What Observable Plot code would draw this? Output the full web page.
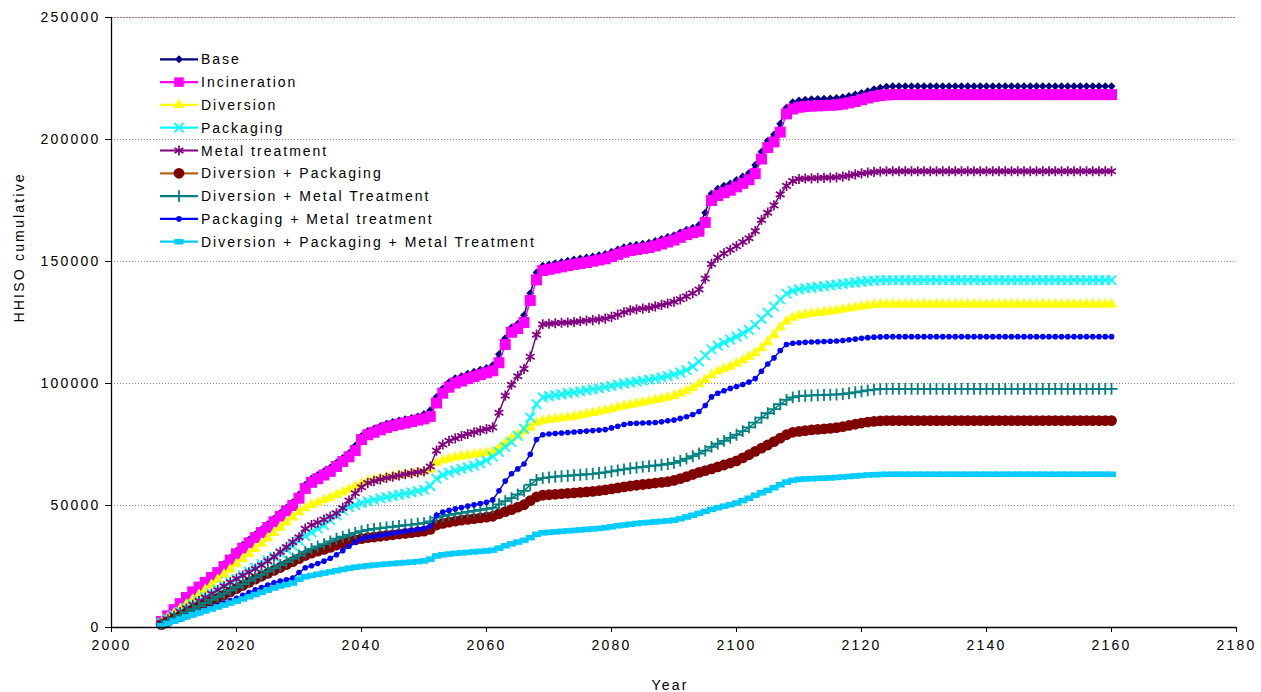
<!DOCTYPE html>
<html>
<head>
<meta charset="utf-8">
<script src="https://cdn.jsdelivr.net/npm/d3@7"></script>
<script src="https://cdn.jsdelivr.net/npm/@observablehq/plot@0.6"></script>
<style>
  html, body { margin: 0; padding: 0; background: #fff; }
  #chart svg { display: block; }
</style>
</head>
<body>
<div id="chart"></div>
<script>
// ---------------- DATA (values in thousands, one value per year 2008..2160) ----------------
const years = d3.range(2008, 2161);
const xTickLabels = [2000, 2020, 2040, 2060, 2080, 2100, 2120, 2140, 2160, 2180];
const yTickLabels = [0, 50000, 100000, 150000, 200000, 250000];
const seriesNames = [
  "Base", "Incineration", "Diversion", "Packaging", "Metal treatment",
  "Diversion + Packaging", "Diversion + Metal Treatment",
  "Packaging + Metal treatment", "Diversion + Packaging + Metal Treatment"
];

const baseK = [
  3.0, 5.3, 7.8, 10.3, 12.8, 15.1, 17.1, 19.0, 21.0, 23.0,
  26.0, 28.6, 31.4, 33.8, 36.0, 38.1, 40.2, 42.3, 44.6, 46.9,
  49.1, 51.3, 54.5, 58.5, 61.0, 62.5, 64.0, 65.5, 67.5, 69.5,
  71.5, 74.5, 78.5, 80.5, 81.5, 82.5, 83.5, 84.2, 84.8, 85.3,
  85.9, 86.5, 87.5, 89.0, 94.5, 98.0, 100.5, 102.2, 103.0, 104.0,
  104.8, 105.6, 106.4, 107.5, 112.0, 118.5, 123.0, 124.5, 128.0, 137.0,
  145.5, 148.3, 148.8, 149.3, 149.8, 150.3, 150.8, 151.2, 151.6, 152.1,
  152.6, 153.1, 154.0, 154.9, 155.8, 156.5, 156.9, 157.3, 157.7, 158.4,
  159.2, 160.0, 160.8, 161.9, 163.0, 163.8, 165.0, 170.0, 177.8, 179.8,
  181.0, 182.0, 183.4, 184.8, 186.3, 189.5, 195.0, 199.5, 202.0, 206.5,
  213.0, 215.3, 216.0, 216.3, 216.5, 216.6, 216.7, 216.8, 217.0, 217.3,
  217.8, 218.4, 219.1, 219.8, 220.6, 221.2, 221.6, 221.8, 221.8, 221.8,
  221.8, 221.8, 221.8, 221.8, 221.8, 221.8, 221.8, 221.8, 221.8, 221.8,
  221.8, 221.8, 221.8, 221.8, 221.8, 221.8, 221.8, 221.8, 221.8, 221.8,
  221.8, 221.8, 221.8, 221.8, 221.8, 221.8, 221.8, 221.8, 221.8, 221.8,
  221.8, 221.8, 221.8
];
const incinerationK = [
  2.5, 4.8, 7.3, 9.8, 12.3, 14.6, 16.6, 18.5, 20.5, 22.5,
  25.0, 27.6, 30.2, 32.5, 34.7, 36.8, 38.9, 41.0, 43.3, 45.6,
  47.8, 50.0, 53.0, 57.0, 59.5, 61.0, 62.5, 64.0, 66.0, 68.0,
  70.0, 72.5, 77.0, 79.0, 80.0, 81.0, 82.0, 82.7, 83.3, 83.8,
  84.4, 85.0, 85.5, 86.5, 92.0, 96.0, 98.5, 100.2, 101.0, 102.0,
  102.8, 103.6, 104.4, 105.2, 108.5, 116.0, 121.0, 122.5, 125.0, 134.0,
  142.5, 146.3, 146.8, 147.3, 147.8, 148.3, 148.8, 149.2, 149.6, 150.1,
  150.6, 151.1, 152.0, 152.9, 153.8, 154.5, 154.9, 155.3, 155.7, 156.4,
  157.2, 158.0, 158.8, 159.9, 161.0, 161.8, 162.4, 166.0, 175.0, 177.0,
  178.2, 179.2, 180.6, 182.0, 183.5, 186.0, 192.0, 196.7, 199.0, 203.0,
  210.5, 212.5, 213.2, 213.5, 213.7, 213.8, 213.9, 214.0, 214.2, 214.5,
  215.0, 215.6, 216.3, 217.0, 217.6, 218.0, 218.3, 218.4, 218.4, 218.4,
  218.4, 218.4, 218.4, 218.4, 218.4, 218.4, 218.4, 218.4, 218.4, 218.4,
  218.4, 218.4, 218.4, 218.4, 218.4, 218.4, 218.4, 218.4, 218.4, 218.4,
  218.4, 218.4, 218.4, 218.4, 218.4, 218.4, 218.4, 218.4, 218.4, 218.4,
  218.4, 218.4, 218.4
];
const diversionK = [
  2.2, 4.0, 5.8, 7.6, 9.5, 11.5, 13.5, 15.5, 17.6, 19.7,
  21.8, 23.9, 26.0, 28.1, 30.2, 32.3, 34.4, 36.6, 38.8, 41.0,
  43.1, 45.2, 47.3, 49.0, 50.3, 51.3, 52.3, 53.3, 54.4, 55.5,
  56.6, 57.8, 59.0, 60.0, 60.6, 61.1, 61.6, 62.0, 62.4, 62.8,
  63.2, 63.6, 64.0, 64.8, 67.5, 68.5, 69.2, 69.8, 70.2, 70.6,
  71.0, 71.3, 71.6, 72.0, 73.5, 75.5, 77.5, 79.0, 80.5, 82.0,
  84.0, 84.8, 85.2, 85.5, 85.8, 86.1, 86.5, 87.0, 87.5, 88.0,
  88.5, 89.0, 89.6, 90.2, 90.8, 91.3, 91.8, 92.3, 92.8, 93.3,
  93.8, 94.3, 95.0, 96.0, 97.0, 98.2, 99.8, 101.5, 103.5, 105.0,
  106.0, 107.0, 108.2, 109.6, 111.0, 112.5, 114.5, 117.0, 120.0, 123.0,
  125.5, 127.0, 127.8, 128.3, 128.7, 129.0, 129.3, 129.6, 130.0, 130.4,
  130.8, 131.2, 131.6, 132.0, 132.3, 132.5, 132.5, 132.5, 132.5, 132.5,
  132.5, 132.5, 132.5, 132.5, 132.5, 132.5, 132.5, 132.5, 132.5, 132.5,
  132.5, 132.5, 132.5, 132.5, 132.5, 132.5, 132.5, 132.5, 132.5, 132.5,
  132.5, 132.5, 132.5, 132.5, 132.5, 132.5, 132.5, 132.5, 132.5, 132.5,
  132.5, 132.5, 132.5
];
const packagingK = [
  1.8, 3.4, 5.0, 6.5, 8.0, 9.5, 11.0, 12.5, 14.0, 15.5,
  17.0, 18.5, 20.0, 21.5, 23.0, 24.5, 26.0, 27.5, 29.0, 30.5,
  32.0, 33.5, 35.5, 37.5, 39.0, 40.5, 42.0, 44.0, 46.0, 48.0,
  49.3, 50.2, 51.0, 51.7, 52.3, 52.9, 53.4, 53.9, 54.4, 54.9,
  55.4, 55.9, 56.5, 58.0, 61.0, 62.5, 63.5, 64.3, 65.0, 65.6,
  66.3, 67.3, 68.5, 70.0, 72.0, 74.0, 76.0, 78.5, 81.5, 86.0,
  91.5, 94.3, 94.8, 95.2, 95.6, 96.0, 96.4, 96.8, 97.2, 97.6,
  98.0, 98.5, 99.0, 99.5, 100.0, 100.4, 100.8, 101.2, 101.6, 102.0,
  102.5, 103.0, 103.6, 104.5, 105.5, 107.0, 109.0, 111.5, 114.0, 115.5,
  116.8, 118.0, 119.2, 120.5, 122.0, 124.0, 126.5, 129.0, 131.5, 134.5,
  136.8, 138.0, 138.6, 139.0, 139.3, 139.6, 139.9, 140.2, 140.5, 140.8,
  141.1, 141.4, 141.7, 142.0, 142.2, 142.3, 142.4, 142.4, 142.4, 142.4,
  142.4, 142.4, 142.4, 142.4, 142.4, 142.4, 142.4, 142.4, 142.4, 142.4,
  142.4, 142.4, 142.4, 142.4, 142.4, 142.4, 142.4, 142.4, 142.4, 142.4,
  142.4, 142.4, 142.4, 142.4, 142.4, 142.4, 142.4, 142.4, 142.4, 142.4,
  142.4, 142.4, 142.4
];
const metalK = [
  1.8, 3.3, 4.8, 6.3, 7.8, 9.3, 10.8, 12.3, 13.8, 15.3,
  16.9, 18.5, 20.0, 21.3, 22.6, 24.0, 25.5, 27.2, 29.0, 31.0,
  33.0, 35.0, 37.0, 40.5, 42.0, 43.0, 44.2, 45.5, 46.8, 49.0,
  52.0, 55.0, 57.5, 59.2, 60.0, 60.7, 61.3, 61.8, 62.3, 62.8,
  63.2, 63.6, 64.0, 66.0, 72.5, 75.0, 76.5, 77.5, 78.5, 79.3,
  80.0, 80.7, 81.3, 82.0, 88.0, 95.0, 99.5, 103.0, 106.0, 111.0,
  120.0, 124.3, 124.5, 124.7, 124.9, 125.0, 125.2, 125.5, 125.8, 126.0,
  126.3, 126.6, 127.3, 128.2, 129.2, 130.0, 130.4, 130.7, 131.0, 131.6,
  132.2, 132.8, 133.5, 134.5, 135.7, 137.0, 138.5, 143.0, 149.0, 151.6,
  153.3, 154.8, 156.3, 158.0, 159.5, 162.5, 167.0, 170.0, 173.0, 177.5,
  181.0, 183.0, 183.8, 184.0, 184.1, 184.2, 184.3, 184.4, 184.5, 184.8,
  185.2, 185.7, 186.1, 186.4, 186.7, 186.9, 187.0, 187.0, 187.0, 187.0,
  187.0, 187.0, 187.0, 187.0, 187.0, 187.0, 187.0, 187.0, 187.0, 187.0,
  187.0, 187.0, 187.0, 187.0, 187.0, 187.0, 187.0, 187.0, 187.0, 187.0,
  187.0, 187.0, 187.0, 187.0, 187.0, 187.0, 187.0, 187.0, 187.0, 187.0,
  187.0, 187.0, 187.0
];
const divPackK = [
  1.2, 2.4, 3.6, 4.8, 6.0, 7.2, 8.4, 9.6, 10.8, 12.0,
  13.3, 14.6, 15.9, 17.2, 18.5, 19.8, 21.0, 22.2, 23.4, 24.6,
  25.8, 27.0, 28.2, 29.5, 30.5, 31.3, 32.0, 32.8, 33.8, 34.6,
  35.3, 35.9, 36.4, 36.8, 37.1, 37.4, 37.7, 38.0, 38.3, 38.6,
  38.9, 39.2, 39.5, 40.2, 42.0, 42.7, 43.2, 43.6, 44.0, 44.3,
  44.6, 44.9, 45.2, 45.6, 46.6, 47.5, 48.3, 49.3, 50.3, 52.0,
  53.5, 54.2, 54.4, 54.6, 54.8, 55.0, 55.2, 55.4, 55.6, 55.8,
  56.1, 56.4, 56.8, 57.2, 57.6, 58.0, 58.3, 58.6, 58.9, 59.2,
  59.5, 59.8, 60.3, 61.0, 61.8, 62.7, 63.6, 64.3, 65.0, 65.8,
  66.6, 67.4, 68.3, 69.5, 70.8, 72.2, 73.5, 74.8, 76.2, 77.6,
  79.0, 80.0, 80.4, 80.7, 81.0, 81.2, 81.4, 81.6, 81.9, 82.3,
  82.8, 83.3, 83.8, 84.2, 84.5, 84.7, 84.8, 84.8, 84.8, 84.8,
  84.8, 84.8, 84.8, 84.8, 84.8, 84.8, 84.8, 84.8, 84.8, 84.8,
  84.8, 84.8, 84.8, 84.8, 84.8, 84.8, 84.8, 84.8, 84.8, 84.8,
  84.8, 84.8, 84.8, 84.8, 84.8, 84.8, 84.8, 84.8, 84.8, 84.8,
  84.8, 84.8, 84.8
];
const divMetalK = [
  1.5, 2.7, 3.9, 5.1, 6.3, 7.5, 8.8, 10.0, 11.3, 12.6,
  13.9, 15.2, 16.5, 17.8, 19.1, 20.4, 21.7, 23.0, 24.3, 25.6,
  26.9, 28.2, 29.5, 31.0, 32.2, 33.2, 34.2, 35.3, 36.4, 37.2,
  38.0, 38.8, 39.5, 40.0, 40.4, 40.7, 41.0, 41.3, 41.6, 41.9,
  42.2, 42.5, 42.8, 43.5, 45.0, 45.7, 46.2, 46.6, 47.0, 47.4,
  47.8, 48.2, 48.6, 49.0, 50.5, 51.8, 53.0, 54.5, 56.0, 58.5,
  60.5, 61.2, 61.5, 61.8, 62.0, 62.2, 62.4, 62.6, 62.8, 63.0,
  63.3, 63.6, 64.0, 64.4, 64.8, 65.2, 65.5, 65.8, 66.1, 66.4,
  66.7, 67.0, 67.5, 68.3, 69.2, 70.2, 71.3, 72.5, 74.0, 75.3,
  76.5, 77.7, 79.0, 80.5, 82.0, 84.0, 86.0, 87.8, 89.5, 91.5,
  93.3, 94.3, 94.8, 95.0, 95.1, 95.2, 95.3, 95.4, 95.5, 95.7,
  96.0, 96.4, 96.8, 97.2, 97.5, 97.7, 97.8, 97.8, 97.8, 97.8,
  97.8, 97.8, 97.8, 97.8, 97.8, 97.8, 97.8, 97.8, 97.8, 97.8,
  97.8, 97.8, 97.8, 97.8, 97.8, 97.8, 97.8, 97.8, 97.8, 97.8,
  97.8, 97.8, 97.8, 97.8, 97.8, 97.8, 97.8, 97.8, 97.8, 97.8,
  97.8, 97.8, 97.8
];
const packMetalK = [
  1.0, 1.8, 2.6, 3.4, 4.3, 5.2, 6.1, 7.0, 8.0, 9.0,
  10.0, 11.0, 12.0, 13.2, 14.3, 15.4, 16.4, 17.4, 18.3, 19.0,
  19.6, 20.3, 22.5, 24.5, 25.3, 26.2, 27.2, 28.4, 29.8, 31.5,
  33.3, 35.0, 36.2, 37.0, 37.4, 37.8, 38.2, 38.6, 39.0, 39.4,
  39.8, 40.2, 40.6, 41.5, 46.0, 47.3, 48.0, 48.6, 49.2, 49.8,
  50.3, 50.8, 51.3, 52.3, 56.0, 60.0, 63.0, 65.0, 67.0, 71.0,
  77.0, 79.0, 79.3, 79.5, 79.7, 79.9, 80.1, 80.3, 80.5, 80.7,
  80.9, 81.1, 81.8, 82.5, 83.2, 83.6, 83.7, 83.8, 83.9, 84.0,
  84.3, 84.7, 85.0, 85.7, 86.4, 87.3, 88.5, 91.0, 94.5, 96.0,
  97.0, 98.0, 98.8, 99.6, 100.6, 102.0, 105.0, 108.0, 110.5, 113.5,
  116.0, 116.5, 116.7, 116.9, 117.0, 117.1, 117.2, 117.3, 117.4, 117.6,
  117.9, 118.2, 118.5, 118.8, 119.0, 119.1, 119.2, 119.2, 119.2, 119.2,
  119.2, 119.2, 119.2, 119.2, 119.2, 119.2, 119.2, 119.2, 119.2, 119.2,
  119.2, 119.2, 119.2, 119.2, 119.2, 119.2, 119.2, 119.2, 119.2, 119.2,
  119.2, 119.2, 119.2, 119.2, 119.2, 119.2, 119.2, 119.2, 119.2, 119.2,
  119.2, 119.2, 119.2
];
const divPackMetalK = [
  0.8, 1.7, 2.6, 3.5, 4.4, 5.2, 6.0, 6.8, 7.6, 8.4,
  9.2, 10.0, 10.8, 11.7, 12.6, 13.5, 14.4, 15.3, 16.2, 17.0,
  17.6, 18.2, 19.8, 20.8, 21.3, 21.8, 22.3, 22.8, 23.3, 23.8,
  24.3, 24.7, 25.0, 25.3, 25.6, 25.8, 26.0, 26.2, 26.4, 26.6,
  26.8, 27.0, 27.3, 28.0, 29.3, 29.8, 30.1, 30.4, 30.6, 30.8,
  31.0, 31.2, 31.4, 31.7, 32.5, 33.5, 34.3, 35.0, 35.7, 36.8,
  38.2, 38.8, 39.0, 39.2, 39.4, 39.6, 39.8, 40.0, 40.2, 40.4,
  40.6, 40.9, 41.3, 41.7, 42.0, 42.3, 42.6, 42.9, 43.1, 43.3,
  43.5, 43.7, 44.0, 44.6, 45.3, 46.0, 46.8, 47.6, 48.4, 49.1,
  49.7, 50.3, 51.0, 52.0, 53.0, 54.2, 55.2, 56.2, 57.3, 58.5,
  59.6, 60.3, 60.7, 60.9, 61.0, 61.1, 61.2, 61.3, 61.5, 61.7,
  61.9, 62.1, 62.3, 62.5, 62.6, 62.7, 62.8, 62.8, 62.8, 62.8,
  62.8, 62.8, 62.8, 62.8, 62.8, 62.8, 62.8, 62.8, 62.8, 62.8,
  62.8, 62.8, 62.8, 62.8, 62.8, 62.8, 62.8, 62.8, 62.8, 62.8,
  62.8, 62.8, 62.8, 62.8, 62.8, 62.8, 62.8, 62.8, 62.8, 62.8,
  62.8, 62.8, 62.8
];
const seriesValues = [baseK, incinerationK, diversionK, packagingK, metalK,
                      divPackK, divMetalK, packMetalK, divPackMetalK];

// ---------------- STYLES ----------------
const dashSymbol = {
  draw(context, size) {
    const r = Math.sqrt(size / Math.PI);
    const h = r * 0.62;
    context.moveTo(-r, -h);
    context.lineTo(r, -h);
    context.lineTo(r, h);
    context.lineTo(-r, h);
    context.closePath();
  }
};
const styles = [
  {color: "#000080", line: "#000080", symbol: d3.symbolDiamond2, r: 3.6, filled: true},
  {color: "#FF00FF", line: "#FF00FF", symbol: d3.symbolSquare2, r: 7.0, filled: true},
  {color: "#FFFF00", line: "#FFFF00", symbol: d3.symbolTriangle2, r: 5.3, filled: true},
  {color: "#00FFFF", line: "#00FFFF", symbol: d3.symbolTimes, r: 4.4, filled: false, sw: 1.8},
  {color: "#800080", line: "#800080", symbol: d3.symbolAsterisk, r: 4.8, filled: false, sw: 1.7},
  {color: "#800000", line: "#B5651D", symbol: d3.symbolCircle, r: 5.4, filled: true},
  {color: "#008080", line: "#008080", symbol: d3.symbolPlus, r: 3.9, filled: false, sw: 1.8},
  {color: "#0000FF", line: "#0000FF", symbol: d3.symbolCircle, r: 2.8, filled: true},
  {color: "#00CCFF", line: "#00CCFF", symbol: dashSymbol, r: 4.5, filled: true}
];

// ---------------- BUILD ----------------
const marks = [
  Plot.ruleY(yTickLabels.slice(1, -1), {stroke: "#8a8a8a", strokeDasharray: "1,2", strokeWidth: 1}),
  Plot.ruleY([yTickLabels[yTickLabels.length - 1]], {stroke: "#a86a6a", strokeDasharray: "2,1", strokeWidth: 1})
];
seriesValues.forEach((vals, i) => {
  const rows = years.map((yr, j) => ({year: yr, v: vals[j] * 1000})).filter(d => Number.isFinite(d.v));
  const s = styles[i];
  marks.push(Plot.line(rows, {x: "year", y: "v", stroke: s.line, strokeWidth: 1.5}));
  marks.push(Plot.dot(rows, s.filled
    ? {x: "year", y: "v", symbol: s.symbol, r: s.r, fill: s.color, stroke: "none"}
    : {x: "year", y: "v", symbol: s.symbol, r: s.r, fill: "none", stroke: s.color, strokeWidth: s.sw}));
});
marks.push(
  Plot.ruleX([xTickLabels[0]], {stroke: "#000", strokeWidth: 1.3}),
  Plot.ruleY([0], {stroke: "#000", strokeWidth: 1.3}),
  Plot.text(["HHISO cumulative"], {frameAnchor: "left", dx: -92, rotate: -90, fontSize: 14}),
  Plot.text(["Year"], {frameAnchor: "bottom", dx: -4, dy: 62, fontSize: 14})
);

const chart = Plot.plot({
  width: 1261,
  height: 692,
  marginLeft: 111,
  marginRight: 25,
  marginTop: 17,
  marginBottom: 65,
  style: {fontFamily: "'Liberation Sans', Arial, sans-serif", fontSize: "14px", letterSpacing: "2.2px", color: "#000", background: "#fff", overflow: "visible"},
  x: {domain: [2000, 2180], ticks: xTickLabels, tickFormat: "d", tickSize: 5, tickPadding: 8, label: null},
  y: {domain: [0, 250000], ticks: yTickLabels, tickFormat: "d", tickSize: 6, tickPadding: 5, label: null},
  marks
});
document.getElementById("chart").appendChild(chart);

// ---------------- LEGEND ----------------
const svg = d3.select(chart);
const lg = svg.append("g").attr("class", "legend")
  .attr("text-anchor", "start")
  .style("font-family", "'Liberation Sans', Arial, sans-serif")
  .style("font-size", "14px").style("letter-spacing", "2px");
seriesNames.forEach((name, i) => {
  const s = styles[i];
  const y = 59.3 + 22.8 * i;
  const g = lg.append("g").attr("transform", `translate(0,${y})`);
  g.append("line").attr("x1", 160).attr("x2", 198).attr("y1", 0).attr("y2", 0)
    .attr("stroke", s.line).attr("stroke-width", 2.2);
  g.append("path")
    .attr("transform", "translate(179,0)")
    .attr("d", d3.symbol(s.symbol, s.r * s.r * Math.PI * (i === 1 ? 0.75 : 1))())
    .attr("fill", s.filled ? s.color : "none")
    .attr("stroke", s.filled ? "none" : s.color)
    .attr("stroke-width", s.sw || 0);
  g.append("text").attr("x", 201).attr("y", 5).attr("fill", "#000")
    .attr("text-anchor", "start").text(name);
});
</script>
</body>
</html>
